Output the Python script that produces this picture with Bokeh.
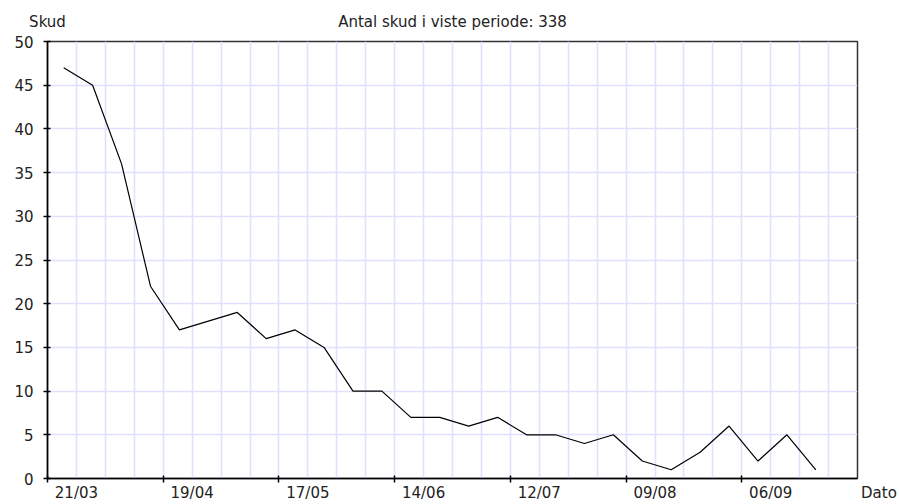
import numpy as np
from bokeh.plotting import figure
from bokeh.models import Range1d, FixedTicker, LinearAxis
from bokeh.embed import file_html
from bokeh.resources import INLINE

# Weekly number of shots ("skud"), from the week of 21/03 onwards
skud = [47, 45, 36, 22, 17, 18, 19, 16, 17, 15, 10, 10, 7, 7, 6, 7, 5, 5, 4, 5, 2, 1, 3, 6, 2, 5, 1]
tick_labels = ["21/03", "19/04", "17/05", "14/06", "12/07", "09/08", "06/09"]
y_ticks = [0, 5, 10, 15, 20, 25, 30, 35, 40, 45, 50]
title_text = "Antal skud i viste periode: %d" % sum(skud)
y_name = "Skud"
x_name = "Dato"
n_weeks = 28

FONT = "DejaVu Sans"
FS = "15px"
TXT = "#222222"
GRID = "#e0e0ff"
NB = "\u00a0"

weeks = np.arange(len(skud)) + 0.56
label_weeks = [1 + 4 * i for i in range(len(tick_labels))]
tick_weeks = [4 * i for i in range(len(tick_labels))]

p = figure(width=899, height=504, output_backend="svg", toolbar_location=None,
           x_range=Range1d(0, n_weeks), y_range=Range1d(0, 50),
           min_border_left=47, min_border_right=42, min_border_top=41, min_border_bottom=26)

p.line(weeks, skud, line_color="black", line_width=1.2)

# bottom axis: date labels between the 4-week tick marks, axis name at the end
xa = p.xaxis[0]
xa.ticker = FixedTicker(ticks=label_weeks + [n_weeks], minor_ticks=tick_weeks)
overrides = {w: t for w, t in zip(label_weeks, tick_labels)}
overrides[n_weeks] = NB * 9 + x_name
xa.major_label_overrides = overrides
xa.major_tick_in = 0
xa.major_tick_out = 0
xa.minor_tick_in = 3
xa.minor_tick_out = 4
xa.minor_tick_line_color = "black"
xa.minor_tick_line_width = 1.5
xa.axis_line_color = "black"
xa.axis_line_width = 1.5
xa.major_label_text_font = FONT
xa.major_label_text_font_size = FS
xa.major_label_text_color = TXT
xa.major_label_standoff = 1

# left axis
ya = p.yaxis[0]
ya.ticker = FixedTicker(ticks=y_ticks)
ya.major_tick_in = 3
ya.major_tick_out = 4
ya.minor_tick_line_color = None
ya.major_tick_line_color = "black"
ya.major_tick_line_width = 1.5
ya.axis_line_color = "black"
ya.axis_line_width = 1.5
ya.major_label_text_font = FONT
ya.major_label_text_font_size = FS
ya.major_label_text_color = TXT
ya.major_label_standoff = 10

# top line of text: y-axis name above the axis and the centred title
top = LinearAxis(ticker=FixedTicker(ticks=[0, n_weeks / 2]),
                 major_label_overrides={0: y_name, n_weeks / 2: title_text})
top.axis_line_color = None
top.major_tick_line_color = None
top.minor_tick_line_color = None
top.major_tick_in = 0
top.major_tick_out = 0
top.major_label_text_font = FONT
top.major_label_text_font_size = FS
top.major_label_text_color = TXT
top.major_label_standoff = 11
p.add_layout(top, "above")

# grid
p.xgrid.ticker = FixedTicker(ticks=list(range(1, n_weeks)))
p.ygrid.ticker = FixedTicker(ticks=y_ticks)
p.xgrid.grid_line_color = GRID
p.ygrid.grid_line_color = GRID
p.xgrid.grid_line_width = 1.6
p.ygrid.grid_line_width = 1.6

p.outline_line_color = "#333333"
p.outline_line_width = 1.5
p.background_fill_color = "white"
p.border_fill_color = "white"

open("out.html", "w").write(file_html(p, INLINE))
